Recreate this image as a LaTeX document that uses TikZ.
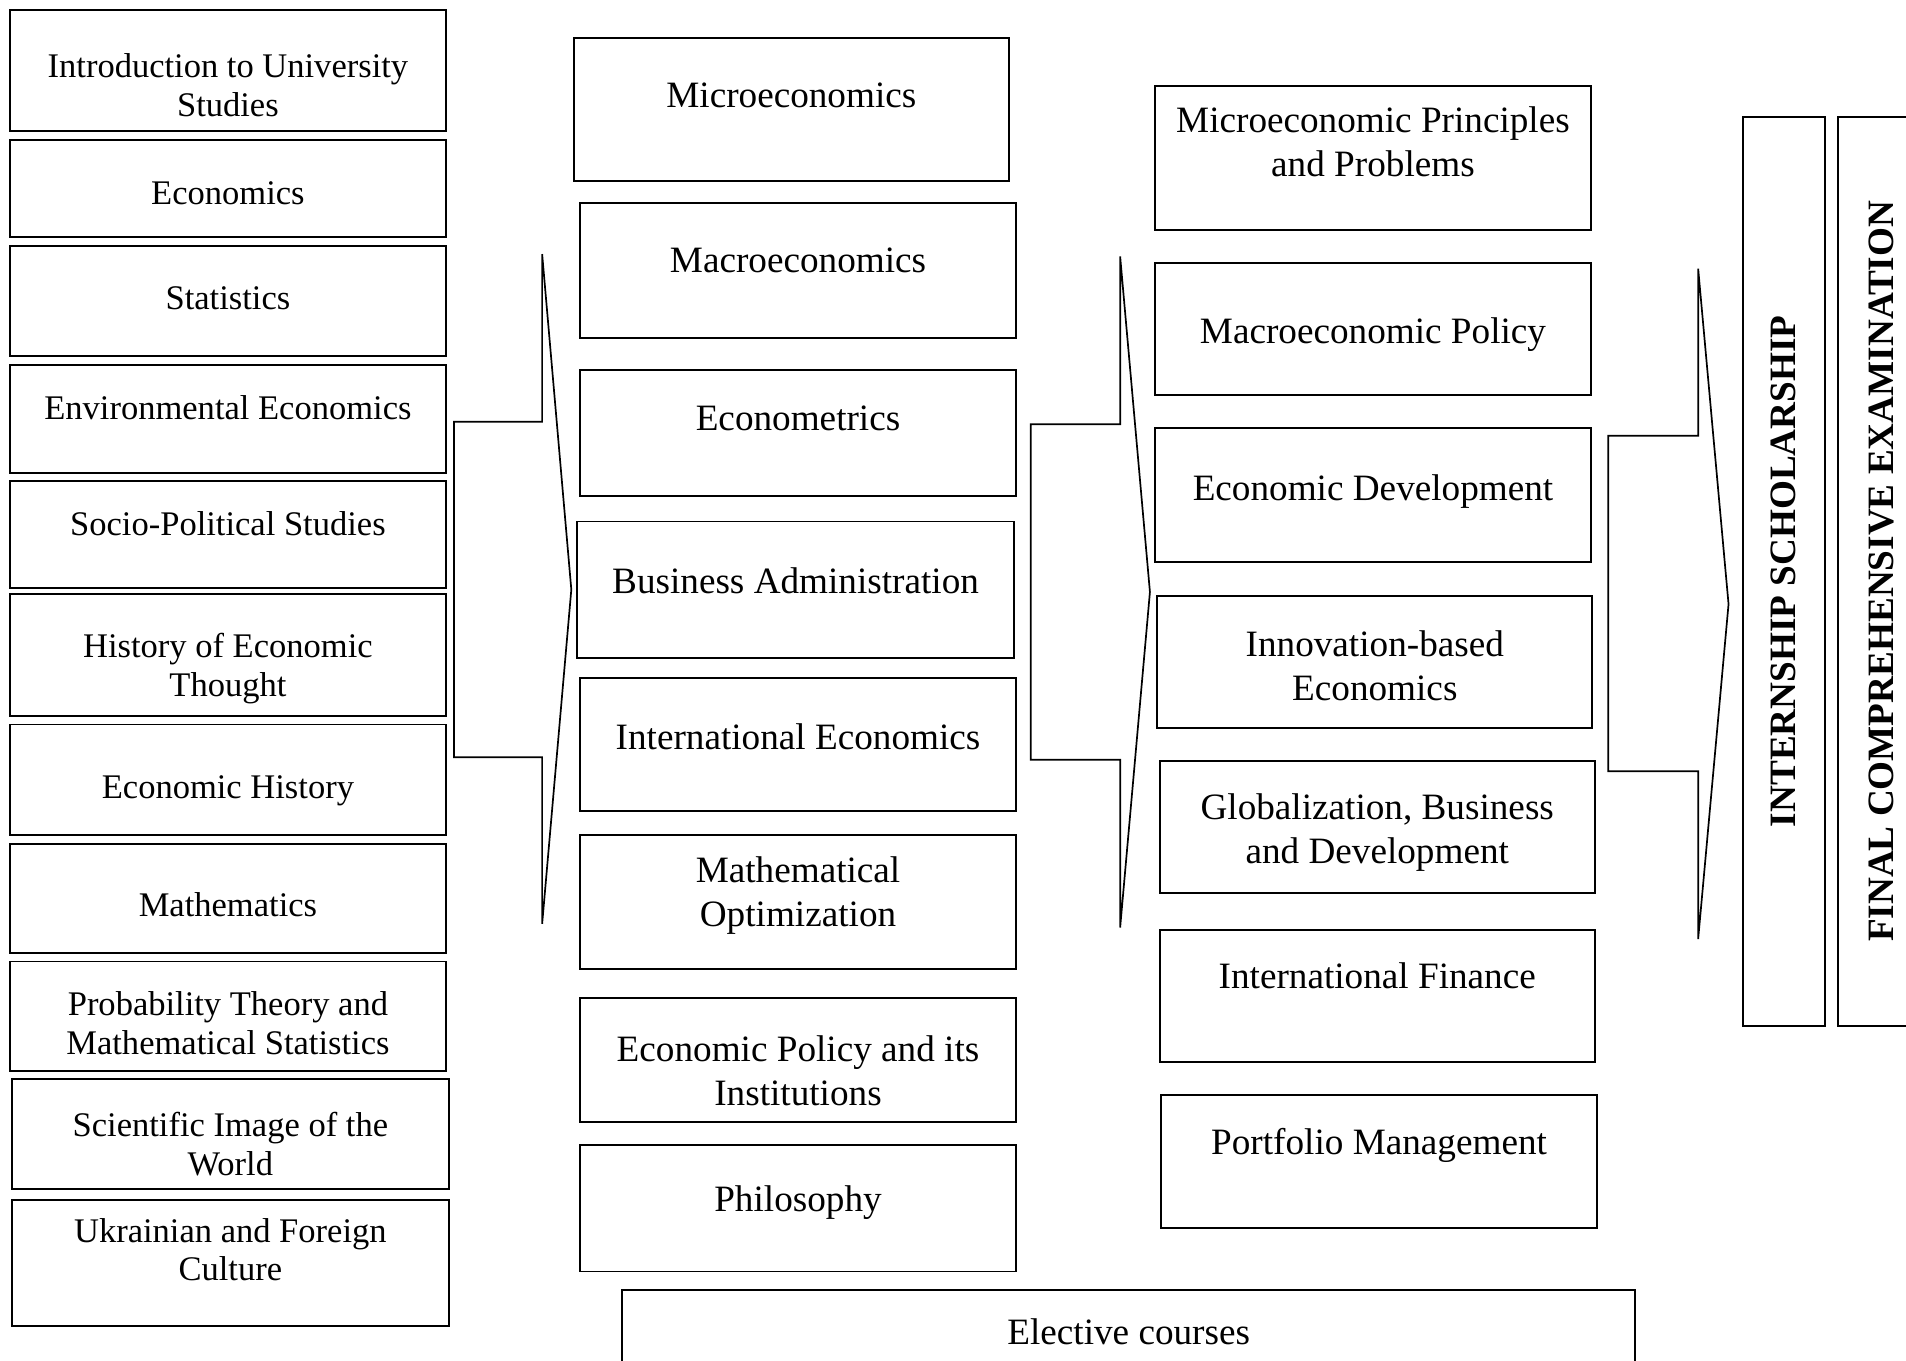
\documentclass[tikz,border=0pt]{standalone}
\usepackage{fontspec}
\setmainfont{Liberation Serif}
\begin{document}
\begin{tikzpicture}[x=0.5pt,y=-0.5pt,
    box/.style={draw, line width=0.8pt, inner sep=0pt},
    small/.style={font=\fontsize{14.2}{16}\selectfont},
    big/.style={font=\fontsize{15.3}{18}\selectfont},
    ttl/.style={font=\bfseries\fontsize{15.3}{18}\selectfont},
    chev/.style={line width=0.7pt, line join=miter}]
    \useasboundingbox (0,0) rectangle (1568,1119);

    % First column of courses
    \foreach \n/\xa/\ya/\xb/\yb/\off/\txt in {
        intro/8/8/367/108/36.5/{Introduction to University\\Studies},
        econ/8/115/367/195/34.5/{Economics},
        stat/8/202/367/293/34.5/{Statistics},
        env/8/300/367/389/25.5/{Environmental Economics},
        socio/8/396/367/484/25.5/{Socio-Political Studies},
        thought/8/489/367/589/32.5/{History of Economic\\Thought},
        ehist/8/596/367/687/42.5/{Economic History},
        math/8/694/367/784/40.5/{Mathematics},
        prob/8/791/367/881/25.5/{Probability Theory and\\Mathematical Statistics},
        sci/10/888/369/978/27.5/{Scientific Image of the\\World},
        cult/10/987/369/1091/15.5/{Ukrainian and Foreign\\Culture}}
      \node[box, minimum width={(\xb-\xa)*0.5pt}, minimum height={(\yb-\ya)*0.5pt},
            label={[small, align=center, inner sep=0pt, anchor=north, yshift={-\off*0.5pt}]north:\txt}]
        (\n) at ({(\xa+\xb)/2},{(\ya+\yb)/2}) {};

    % Second column
    \foreach \n/\xa/\ya/\xb/\yb/\off/\txt in {
        micro/472/31/830/149/37.5/{Microeconomics},
        macro/477/167/836/278/37.5/{Macroeconomics},
        ectr/477/304/836/408/30.5/{Econometrics},
        busad/475/429/834/541/38.5/{Business Administration},
        intl/477/558/836/667/37.5/{International Economics},
        optim/477/687/836/797/18.5/{Mathematical\\Optimization},
        policy/477/821/836/923/31.5/{Economic Policy and its\\Institutions},
        phil/477/942/836/1046/33.5/{Philosophy}}
      \node[box, minimum width={(\xb-\xa)*0.5pt}, minimum height={(\yb-\ya)*0.5pt},
            label={[big, align=center, inner sep=0pt, anchor=north, yshift={-\off*0.5pt}]north:\txt}]
        (\n) at ({(\xa+\xb)/2},{(\ya+\yb)/2}) {};

    % Third column
    \foreach \n/\xa/\ya/\xb/\yb/\off/\txt in {
        mpp/950/71/1309/189/17.5/{Microeconomic Principles\\and Problems},
        mpol/950/216/1309/325/45.5/{Macroeconomic Policy},
        edev/950/352/1309/462/38.5/{Economic Development},
        innov/952/490/1310/599/29.5/{Innovation-based\\Economics},
        glob/954/626/1312/735/27.5/{Globalization, Business\\and Development},
        ifin/954/765/1312/874/27.5/{International Finance},
        port/955/901/1314/1010/27.5/{Portfolio Management},
        elect/512/1061/1345/1140/24.5/{Elective courses}}
      \node[box, minimum width={(\xb-\xa)*0.5pt}, minimum height={(\yb-\ya)*0.5pt},
            label={[big, align=center, inner sep=0pt, anchor=north, yshift={-\off*0.5pt}]north:\txt}]
        (\n) at ({(\xa+\xb)/2},{(\ya+\yb)/2}) {};

    % Final stages (rotated)
    \node[box, ttl, rotate=90, minimum width=374pt, minimum height=33.5pt]
      (intern) at (1467.5,470) {INTERNSHIP SCHOLARSHIP};
    \node[box, ttl, rotate=90, minimum width=374pt, minimum height=36pt]
      (exam) at (1548,470) {FINAL COMPREHENSIVE EXAMINATION};

    % Big arrows between the stages
    \foreach \l/\s/\tip/\ra/\rb/\sa/\sb/\ty in {
        373.5/446/470/347/623/209/760/485,
        848/921.5/946/349/625/211/763/487,
        1323/1397/1422/358.5/634.5/221/772.5/497}
      \draw[chev] (\l,\ra) -- (\s,\ra) -- (\s,\sa) -- (\tip,\ty)
        -- (\s,\sb) -- (\s,\rb) -- (\l,\rb) -- cycle;
\end{tikzpicture}
\end{document}
